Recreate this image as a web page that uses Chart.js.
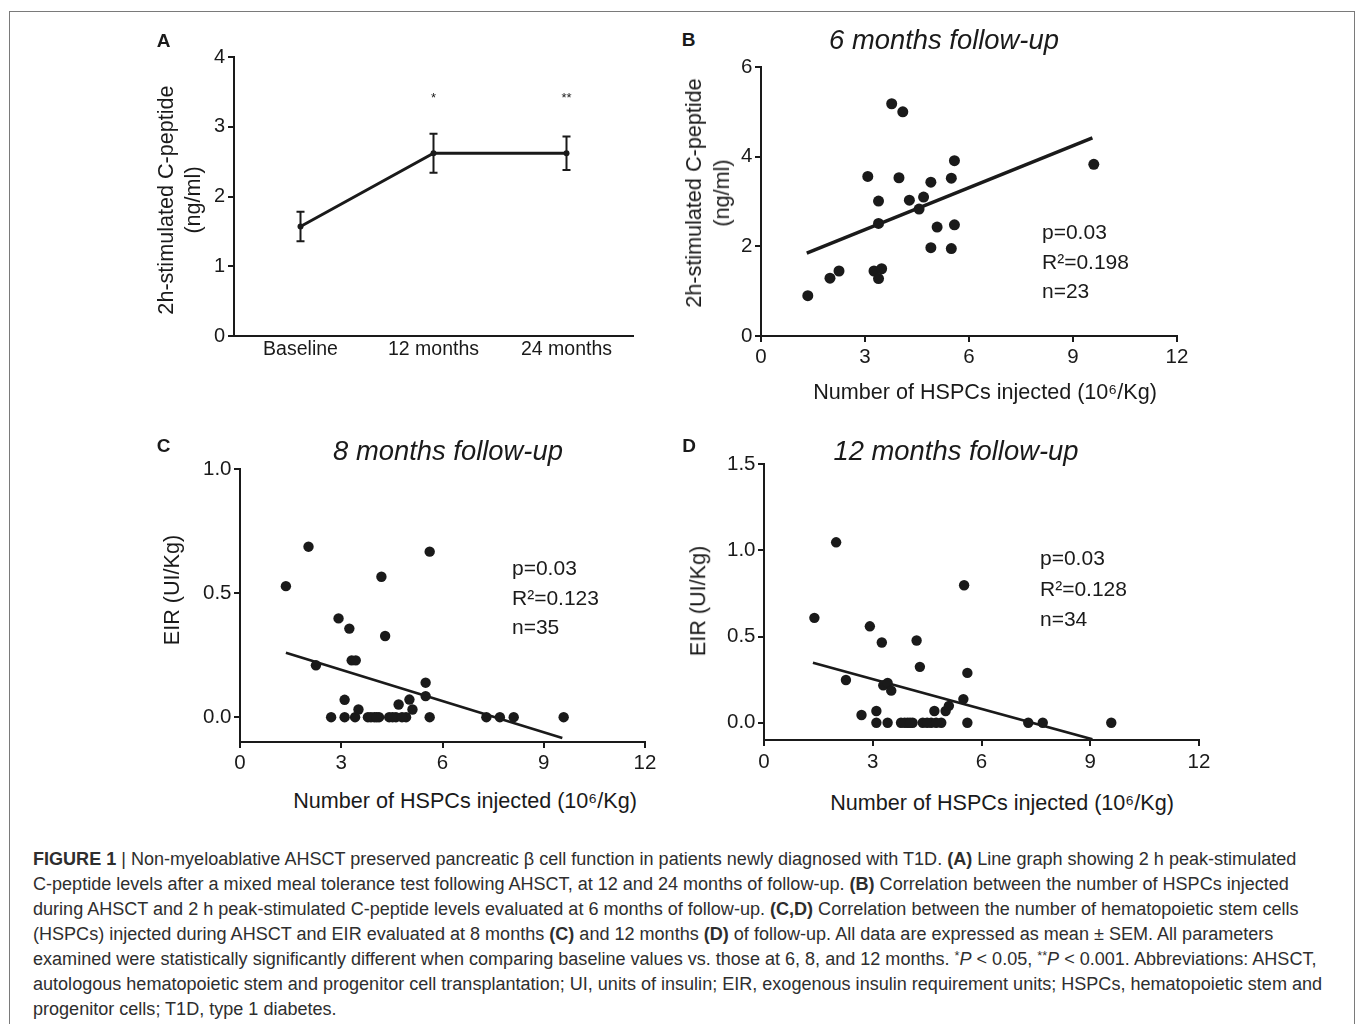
<!DOCTYPE html>
<html>
<head>
<meta charset="utf-8">
<title>Figure 1</title>
<script src="https://cdn.jsdelivr.net/npm/chart.js@4.4.1/dist/chart.umd.min.js"></script>
<style>
  body {
    margin: 0;
    width: 1357px;
    height: 1024px;
    overflow: hidden;
    position: relative;
    background: #fff;
    font-family: "Liberation Sans", Arial, Helvetica, sans-serif;
    color: #1a1a1a;
  }
  .frame {
    position: absolute;
    left: 9px;
    top: 11px;
    width: 1346px;
    height: 1040px;
    border: 1px solid #7a7a7a;
    box-sizing: border-box;
  }
  canvas { position: absolute; }
  .txt { position: absolute; white-space: nowrap; line-height: 1; }
  .letter { font-weight: bold; font-size: 19px; transform: translate(-50%, -50%); }
  .ptitle { font-style: italic; font-size: 27.4px; transform: translate(-50%, -50%); }
  .xtitle { font-size: 21.6px; transform: translate(-50%, -50%); }
  .ytitle { font-size: 21.6px; text-align: center; transform: translate(-50%, -50%) rotate(-90deg); }
  .stats { font-size: 21px; line-height: 29.5px; }
  .caption {
    position: absolute;
    left: 33px;
    top: 847px;
    font-family: "Liberation Sans Narrow", "Arial Narrow", "Liberation Sans", Arial, sans-serif;
    font-size: 17.3px;
    line-height: 25px;
    color: #2e2e2e;
    white-space: nowrap;
  }
  .caption sup { font-size: 0.7em; line-height: 0; vertical-align: 0.4em; }
</style>
</head>
<body>
<div class="frame"></div>

<canvas id="chartA" width="510" height="340" style="left:140px;top:40px"></canvas>
<canvas id="chartB" width="525" height="330" style="left:675px;top:50px"></canvas>
<canvas id="chartC" width="520" height="340" style="left:150px;top:445px"></canvas>
<canvas id="chartD" width="540" height="345" style="left:680px;top:440px"></canvas>

<div class="txt letter" style="left:163.5px;top:40px">A</div>
<div class="txt letter" style="left:688.5px;top:39px">B</div>
<div class="txt letter" style="left:163.5px;top:444.5px">C</div>
<div class="txt letter" style="left:689px;top:444.5px">D</div>

<div class="txt ptitle" style="left:944px;top:39.5px">6 months follow-up</div>
<div class="txt ptitle" style="left:448px;top:451px">8 months follow-up</div>
<div class="txt ptitle" style="left:956px;top:451px">12 months follow-up</div>

<div class="txt ytitle" style="left:179px;top:200px;line-height:27px">2h-stimulated C-peptide<br>(ng/ml)</div>
<div class="txt ytitle" style="left:708px;top:193px;line-height:28px">2h-stimulated C-peptide<br>(ng/ml)</div>
<div class="txt ytitle" style="left:172px;top:590px">EIR (UI/Kg)</div>
<div class="txt ytitle" style="left:698px;top:601px">EIR (UI/Kg)</div>

<div class="txt xtitle" style="left:985px;top:391.5px">Number of HSPCs injected (10⁶/Kg)</div>
<div class="txt xtitle" style="left:465px;top:801px">Number of HSPCs injected (10⁶/Kg)</div>
<div class="txt xtitle" style="left:1002px;top:803px">Number of HSPCs injected (10⁶/Kg)</div>

<div class="txt stats" style="left:1042px;top:217px">p=0.03<br>R²=0.198<br>n=23</div>
<div class="txt stats" style="left:512px;top:553px">p=0.03<br>R²=0.123<br>n=35</div>
<div class="txt stats" style="left:1040px;top:543px;line-height:30.5px">p=0.03<br>R²=0.128<br>n=34</div>

<div class="caption" id="caption">
<span id="firstLine"><b>FIGURE 1</b> | Non-myeloablative AHSCT preserved pancreatic β cell function in patients newly diagnosed with T1D. <b>(A)</b> Line graph showing 2 h peak-stimulated</span><br>
C-peptide levels after a mixed meal tolerance test following AHSCT, at 12 and 24 months of follow-up. <b>(B)</b> Correlation between the number of HSPCs injected<br>
during AHSCT and 2 h peak-stimulated C-peptide levels evaluated at 6 months of follow-up. <b>(C,D)</b> Correlation between the number of hematopoietic stem cells<br>
(HSPCs) injected during AHSCT and EIR evaluated at 8 months <b>(C)</b> and 12 months <b>(D)</b> of follow-up. All data are expressed as mean ± SEM. All parameters<br>
examined were statistically significantly different when comparing baseline values vs. those at 6, 8, and 12 months. <sup>*</sup><i>P</i> &lt; 0.05, <sup>**</sup><i>P</i> &lt; 0.001. Abbreviations: AHSCT,<br>
autologous hematopoietic stem and progenitor cell transplantation; UI, units of insulin; EIR, exogenous insulin requirement units; HSPCs, hematopoietic stem and<br>
progenitor cells; T1D, type 1 diabetes.
</div>

<script>
const INK = '#1a1a1a';
const FONT = '"Liberation Sans", Arial, Helvetica, sans-serif';

// Panel A: 2h-stimulated C-peptide over time (mean, SEM)
const timepoints = ['Baseline', '12 months', '24 months'];
const cpeptideMean = [1.57, 2.62, 2.62];
const cpeptideSem = [0.21, 0.28, 0.24];
const significance = ['', '*', '**'];
const cpeptideTicks = [0, 1, 2, 3, 4];

// Shared x axis for B-D
const hspcTicks = [0, 3, 6, 9, 12];

// Panel B: 6 months follow-up
const hspc6 = [1.35, 1.99, 2.25, 3.26, 3.48, 3.39, 3.08, 3.39, 3.39, 3.77, 4.09, 3.98,
               4.28, 4.69, 4.56, 4.90, 4.90, 5.08, 5.49, 5.58, 5.58, 5.49, 9.60];
const cpep6 = [0.90, 1.29, 1.45, 1.45, 1.50, 1.28, 3.56, 3.01, 2.51, 5.18, 5.00, 3.53,
               3.03, 3.10, 2.83, 3.43, 1.97, 2.43, 3.52, 3.91, 2.48, 1.95, 3.83];
const fit6X = [1.32, 9.56];
const fit6Y = [1.85, 4.42];
const cpep6Ticks = [0, 2, 4, 6];

// Panel C: 8 months follow-up
const hspc8 = [1.36, 2.03, 2.25, 2.70, 2.92, 3.10, 3.10, 3.24, 3.31, 3.43, 3.41, 3.51,
               3.79, 3.98, 4.12, 4.19, 4.30, 4.42, 4.62, 4.70, 4.92, 5.02, 5.11, 5.50,
               5.50, 5.62, 5.62, 7.30, 7.70, 8.11, 9.59, 3.88, 4.05, 4.52, 4.80];
const eir8 = [0.528, 0.687, 0.209, 0, 0.398, 0.070, 0, 0.357, 0.229, 0.229, 0, 0.031,
              0, 0, 0, 0.566, 0.327, 0, 0, 0.051, 0, 0.071, 0.031, 0.139,
              0.085, 0.667, 0, 0, 0, 0, 0, 0, 0, 0, 0];
const fit8X = [1.36, 9.55];
const fit8Y = [0.26, -0.084];
const eir8Ticks = [0, 0.5, 1.0];

// Panel D: 12 months follow-up
const hspc12 = [1.39, 1.99, 2.26, 2.69, 2.92, 3.10, 3.10, 3.25, 3.29, 3.41, 3.51, 3.41,
                3.78, 3.96, 4.10, 4.21, 4.30, 4.38, 4.61, 4.70, 4.89, 5.01, 5.10, 5.50,
                5.52, 5.61, 5.61, 7.29, 7.69, 9.58, 3.88, 4.03, 4.50, 4.75];
const eir12 = [0.608, 1.046, 0.248, 0.045, 0.559, 0.068, 0, 0.465, 0.217, 0.231, 0.186, 0,
               0, 0, 0, 0.477, 0.324, 0, 0, 0.068, 0, 0.068, 0.098, 0.137,
               0.797, 0.289, 0, 0, 0, 0, 0, 0, 0, 0];
const fit12X = [1.35, 9.06];
const fit12Y = [0.348, -0.096];
const eir12Ticks = [0, 0.5, 1.0, 1.5];

Chart.defaults.font.family = FONT;
Chart.defaults.color = INK;

const toPoints = (xs, ys) => xs.map((x, i) => ({x: x, y: ys[i]}));

// canvas box (page px) + wanted plot area (page px) -> padding and axis sizes
function fitBox(canvasId, plot) {
    const el = document.getElementById(canvasId);
    const left = parseFloat(el.style.left), top = parseFloat(el.style.top);
    return {
        el: el,
        padding: {left: 0, top: plot.top - top, right: left + el.width - plot.right, bottom: 0},
        yWidth: plot.left - left,
        xHeight: top + el.height - plot.bottom
    };
}

function linearAxis(ticks, min, max, format, size, horizontal, fontSize, pad) {
    return {
        type: 'linear',
        min: min,
        max: max,
        afterBuildTicks: (scale) => { scale.ticks = ticks.map(v => ({value: v})); },
        afterFit: (scale) => {
            if (horizontal) scale.height = size; else scale.width = size;
        },
        border: {color: INK, width: 2},
        grid: {drawOnChartArea: false, color: INK, lineWidth: 2, tickLength: 6},
        ticks: {color: INK, font: {size: fontSize}, padding: pad, maxRotation: 0, autoSkip: false, callback: format}
    };
}

const errorBars = {
    id: 'errorBars',
    afterDatasetsDraw(chart) {
        const ds = chart.data.datasets[0];
        const meta = chart.getDatasetMeta(0);
        const y = chart.scales.y;
        const ctx = chart.ctx;
        ctx.save();
        ctx.strokeStyle = INK;
        ctx.fillStyle = INK;
        ctx.lineWidth = 2;
        ctx.font = '13px ' + FONT;
        ctx.textAlign = 'center';
        ctx.textBaseline = 'alphabetic';
        meta.data.forEach((pt, i) => {
            const hi = y.getPixelForValue(ds.data[i] + ds.sem[i]);
            const lo = y.getPixelForValue(ds.data[i] - ds.sem[i]);
            ctx.beginPath();
            ctx.moveTo(pt.x, hi); ctx.lineTo(pt.x, lo);
            ctx.moveTo(pt.x - 4, hi); ctx.lineTo(pt.x + 4, hi);
            ctx.moveTo(pt.x - 4, lo); ctx.lineTo(pt.x + 4, lo);
            ctx.stroke();
            if (ds.marks[i]) ctx.fillText(ds.marks[i], pt.x, chart.chartArea.top + 45);
        });
        ctx.restore();
    }
};

function lineChartA() {
    const box = fitBox('chartA', {left: 234, top: 57, right: 633, bottom: 336});
    return new Chart(box.el, {
        type: 'line',
        data: {
            labels: timepoints,
            datasets: [{
                data: cpeptideMean,
                sem: cpeptideSem,
                marks: significance,
                borderColor: INK,
                borderWidth: 3,
                pointRadius: 3,
                pointBackgroundColor: INK,
                pointBorderWidth: 0,
                tension: 0
            }]
        },
        options: {
            responsive: false,
            animation: false,
            events: [],
            layout: {padding: box.padding},
            plugins: {legend: {display: false}, tooltip: {enabled: false}},
            scales: {
                x: {
                    type: 'category',
                    offset: true,
                    afterFit: (scale) => { scale.height = box.xHeight; },
                    border: {color: INK, width: 2},
                    grid: {drawOnChartArea: false, drawTicks: false},
                    ticks: {color: INK, font: {size: 19.5}, padding: 2}
                },
                y: linearAxis(cpeptideTicks, 0, 4, v => String(v), box.yWidth, false, 20, 3)
            }
        },
        plugins: [errorBars]
    });
}

function scatterPanel(canvasId, plot, points, fit, yTicks, yMin, yMax, yFormat, radius, fitWidth, xPad) {
    const box = fitBox(canvasId, plot);
    return new Chart(box.el, {
        type: 'scatter',
        data: {
            datasets: [
                {
                    data: points,
                    pointRadius: radius,
                    pointBackgroundColor: INK,
                    pointBorderWidth: 0
                },
                {
                    data: fit,
                    showLine: true,
                    pointRadius: 0,
                    borderColor: INK,
                    borderWidth: fitWidth
                }
            ]
        },
        options: {
            responsive: false,
            animation: false,
            events: [],
            layout: {padding: box.padding},
            plugins: {legend: {display: false}, tooltip: {enabled: false}},
            scales: {
                x: linearAxis(hspcTicks, 0, 12, v => String(v), box.xHeight, true, 20.5, xPad),
                y: linearAxis(yTicks, yMin, yMax, yFormat, box.yWidth, false, 20.5, 2.5)
            }
        }
    });
}

lineChartA();

scatterPanel('chartB', {left: 761, top: 67, right: 1177, bottom: 336},
    toPoints(hspc6, cpep6), toPoints(fit6X, fit6Y),
    cpep6Ticks, 0, 6, v => String(v), 5.5, 3.5, 3);

scatterPanel('chartC', {left: 240, top: 469, right: 645, bottom: 742},
    toPoints(hspc8, eir8), toPoints(fit8X, fit8Y),
    eir8Ticks, -0.1, 1.0, v => v.toFixed(1), 5.2, 2.6, 3.5);

scatterPanel('chartD', {left: 764, top: 464, right: 1199, bottom: 740},
    toPoints(hspc12, eir12), toPoints(fit12X, fit12Y),
    eir12Ticks, -0.1, 1.5, v => v.toFixed(1), 5.2, 2.6, 4.5);

// stretch the caption font so the first line spans the same width as the figure's
const firstLine = document.getElementById('firstLine');
const caption = document.getElementById('caption');
const targetWidth = 1263;
const w = firstLine.getBoundingClientRect().width;
if (w > 0) {
    caption.style.fontSize = (17.3 * targetWidth / w).toFixed(2) + 'px';
}
</script>
</body>
</html>
